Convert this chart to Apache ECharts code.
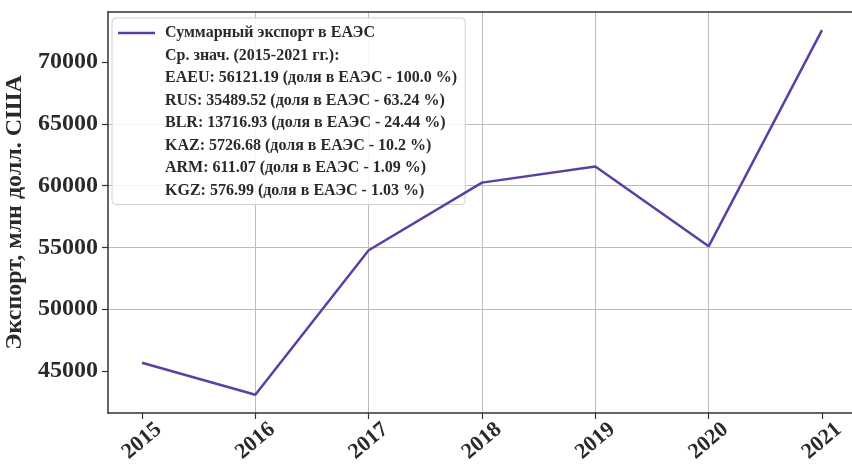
<!DOCTYPE html>
<html>
<head>
<meta charset="utf-8">
<script src="https://cdn.jsdelivr.net/npm/echarts@6/dist/echarts.min.js"></script>
<style>html,body{margin:0;padding:0;background:#fff;}#c{width:852px;height:468px;}</style>
</head>
<body>
<div id="c"></div>
<script>
const years = [2015, 2016, 2017, 2018, 2019, 2020, 2021];
const exportValues = [45650, 43060, 54760, 60240, 61540, 55080, 72590];
const yTicks = [45000, 50000, 55000, 60000, 65000, 70000];
const seriesName = 'Суммарный экспорт в ЕАЭС';
const legendLines = [
  'Ср. знач. (2015-2021 гг.):',
  'EAEU: 56121.19 (доля в ЕАЭС - 100.0 %)',
  'RUS: 35489.52 (доля в ЕАЭС - 63.24 %)',
  'BLR: 13716.93 (доля в ЕАЭС - 24.44 %)',
  'KAZ: 5726.68 (доля в ЕАЭС - 10.2 %)',
  'ARM: 611.07 (доля в ЕАЭС - 1.09 %)',
  'KGZ: 576.99 (доля в ЕАЭС - 1.03 %)'
];
const yTitle = 'Экспорт, млн долл. США';

const FONT = '"Liberation Serif", "DejaVu Serif", serif';
const lineColor = '#5b3fa3';
const chart = echarts.init(document.getElementById('c'));

const series = [{
  name: seriesName,
  type: 'line',
  data: years.map((y, i) => [y, exportValues[i]]),
  showSymbol: false,
  symbol: 'none',
  lineStyle: { color: lineColor, width: 2.5 },
  itemStyle: { color: lineColor },
  z: 5
}].concat(legendLines.map(n => ({ name: n, type: 'line', data: [] })));

chart.setOption({
  animation: false,
  backgroundColor: '#fff',
  grid: { left: 108, top: 12, width: 748, height: 401, outerBoundsMode: 'none', containLabel: false, show: false },
  legend: {
    orient: 'vertical',
    left: 112, top: 18,
    padding: [7, 8, 6, 6],
    itemGap: 6.5,
    itemWidth: 37,
    itemHeight: 15.5,
    backgroundColor: 'rgba(255,255,255,0.85)',
    borderColor: '#d0d0d0',
    borderWidth: 1,
    borderRadius: 4,
    selectedMode: false,
    textStyle: { fontFamily: FONT, fontWeight: 'bold', fontSize: 16, color: '#2a2a2a', padding: [0, 0, 0, 5] },
    data: [{ name: seriesName, icon: 'path://M0,0 L37,0 L37,2.5 L0,2.5 Z', itemStyle: { color: lineColor } }]
      .concat(legendLines.map(n => ({ name: n, icon: 'none' })))
  },
  xAxis: [{
    type: 'value',
    min: 2014.7, max: 2021.3,
    axisLine: { show: true, lineStyle: { color: '#333', width: 1.5 } },
    axisTick: { show: true, length: 6, customValues: years, lineStyle: { color: '#333', width: 1.2 } },
    axisLabel: {
      customValues: years,
      rotate: 40,
      align: 'center',
      verticalAlign: 'middle',
      margin: 28,
      fontFamily: FONT, fontWeight: 'bold', fontSize: 22, color: '#2a2a2a',
      formatter: v => String(Math.round(v))
    },
    splitLine: { show: true, showMinLine: false, showMaxLine: false, lineStyle: { color: '#bdbdbd', width: 1 } }
  }, {
    type: 'value',
    position: 'top',
    min: 2014.7, max: 2021.3,
    axisLine: { show: true, onZero: false, lineStyle: { color: '#333', width: 1.5 } },
    axisTick: { show: false },
    axisLabel: { show: false },
    splitLine: { show: false }
  }],
  yAxis: {
    type: 'value',
    min: 41580, max: 74060,
    name: yTitle,
    nameLocation: 'middle',
    nameGap: 75,
    nameTextStyle: { fontFamily: FONT, fontWeight: 'bold', fontSize: 24, color: '#2a2a2a' },
    axisLine: { show: true, onZero: false, lineStyle: { color: '#333', width: 1.5 } },
    axisTick: { show: true, length: 6, customValues: yTicks, lineStyle: { color: '#333', width: 1.2 } },
    axisLabel: {
      customValues: yTicks,
      margin: 10,
      fontFamily: FONT, fontWeight: 'bold', fontSize: 24, color: '#2a2a2a',
      formatter: v => String(Math.round(v))
    },
    splitLine: { show: true, showMinLine: false, showMaxLine: false, lineStyle: { color: '#bdbdbd', width: 1 } }
  },
  series: series
});
</script>
</body>
</html>
